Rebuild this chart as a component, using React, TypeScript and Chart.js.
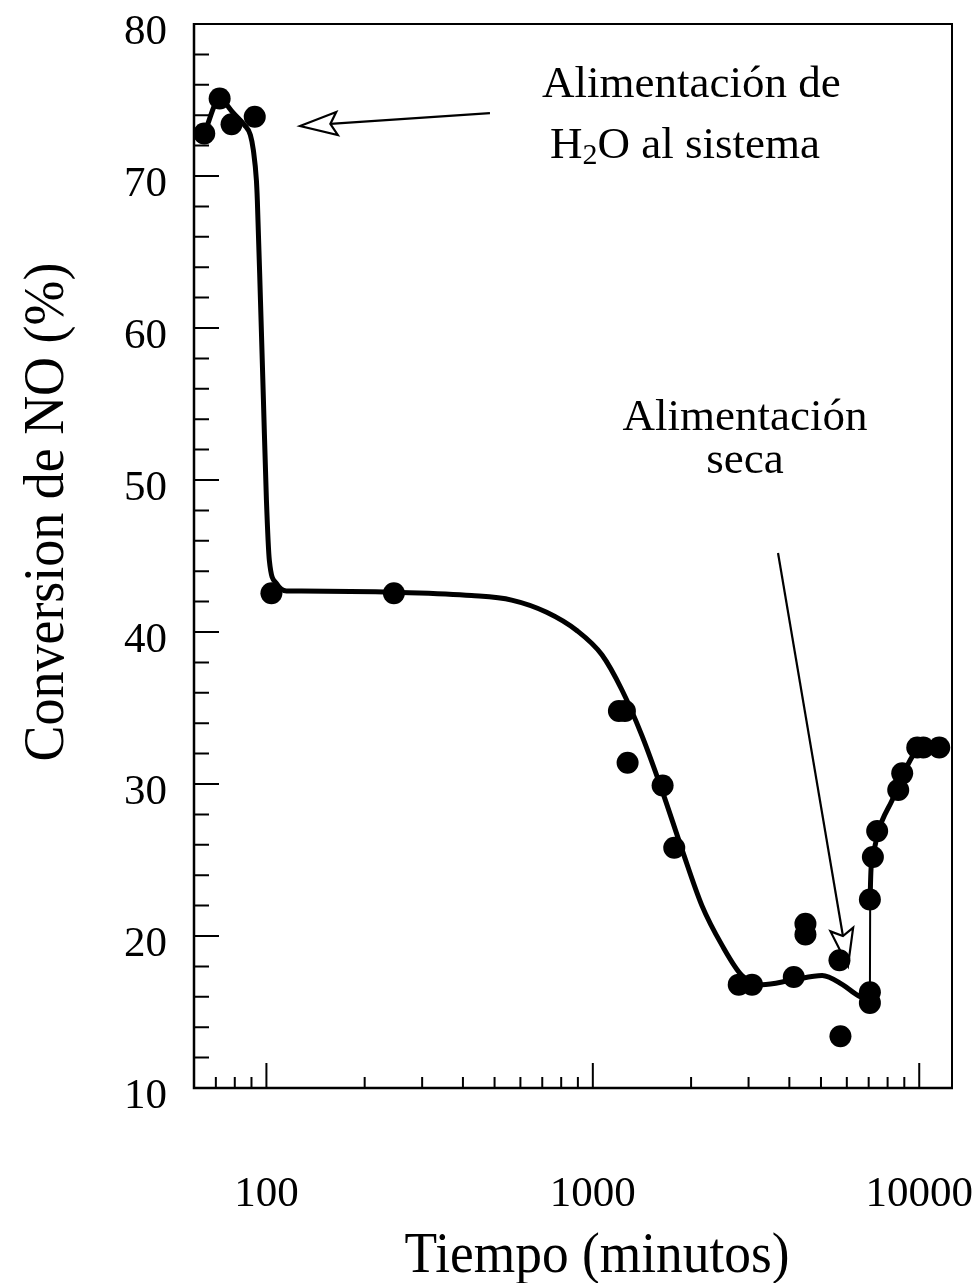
import React, { useEffect, useRef } from 'react';
import { Chart, registerables } from 'chart.js';

Chart.register(...registerables);

// ---- Data (time in minutes, NO conversion in %) ----
const pointTimes = [64.5, 71.9, 78.2, 92.1, 103.6, 245.8, 1202, 1254, 1278, 1636, 1776, 2799, 3074, 4127, 4481, 4481, 5696, 5736, 7060, 7060, 7060, 7211, 7432, 8622, 8868, 9860, 10290, 11515];
const pointConv = [72.8, 75.1, 73.4, 73.9, 42.55, 42.55, 34.8, 34.8, 31.4, 29.9, 25.8, 16.8, 16.8, 17.3, 20.8, 20.1, 18.4, 13.4, 22.4, 16.3, 15.6, 25.2, 26.9, 29.6, 30.7, 32.4, 32.4, 32.4];

const curveTimes = [64.5, 71.9, 79.2, 85.6, 89.3, 91.2, 93.2, 93.8, 95.9, 97.9, 100, 102.1, 107.3, 115.2, 128, 259, 425, 564, 722, 893, 1066, 1227, 1413, 1628, 1875, 2159, 2487, 2864, 3298, 4080, 5041, 5820, 6475, 7060, 7075, 7176, 7484, 7700, 8266, 8868, 9517, 10000, 11515];
const curveConv = [72.8, 75.07, 74.14, 73.36, 72.7, 71.7, 69.7, 68.4, 61.8, 55.3, 48.7, 44.7, 43.2, 42.7, 42.7, 42.6, 42.4, 42.1, 41.3, 40.1, 38.5, 36.2, 33.2, 29.6, 25.7, 22.0, 19.4, 17.4, 16.8, 17.1, 17.4, 16.8, 16.1, 15.8, 22.4, 25.1, 26.8, 27.6, 28.95, 30.5, 31.8, 32.4, 32.4];

const xMajorTicks = [100, 1000, 10000];
const xTickLabels = ['100', '1000', '10000'];
const xMinorTicks = [70, 80, 90, 200, 300, 400, 500, 600, 700, 800, 900, 2000, 3000, 4000, 5000, 6000, 7000, 8000, 9000];
const yMajorTicks = [10, 20, 30, 40, 50, 60, 70, 80];
const yTickLabels = ['10', '20', '30', '40', '50', '60', '70', '80'];
const yMinorTicks = [12, 14, 16, 18, 22, 24, 26, 28, 32, 34, 36, 38, 42, 44, 46, 48, 52, 54, 56, 58, 62, 64, 66, 68, 72, 74, 76, 78];

const xTitle = 'Tiempo (minutos)';
const yTitle = 'Conversion de NO (%)';
const note1Line1 = 'Alimentación de';
const note1Line2a = 'H';
const note1Line2sub = '2';
const note1Line2b = 'O al sistema';
const note2Line1 = 'Alimentación';
const note2Line2 = 'seca';

// annotation anchors in data coordinates [time, conversion]
const arrow1Tail = [484, 74.14];
const arrow1Tip = [126.8, 73.29];
const arrow2Tail = [3693, 45.2];
const arrow2Tip = [6050, 18.03];
const note1Anchor1 = [698.8, 75.22];
const note1Anchor2 = [739.4, 71.16];
const note2Anchor1 = [2925, 53.29];
const note2Anchor2 = [2925, 50.44];

const SERIF = "'Liberation Serif', 'Times New Roman', serif";

function drawArrow(ctx: CanvasRenderingContext2D, tx: number, ty: number, hx: number, hy: number) {
  const dx = hx - tx;
  const dy = hy - ty;
  const len = Math.hypot(dx, dy);
  const ux = dx / len;
  const uy = dy / len;
  const nx = -uy;
  const ny = ux;
  const L = 37;
  const W = 11.5;
  const notch = L * 0.82;
  const bx = hx - ux * L;
  const by = hy - uy * L;
  const mx = hx - ux * notch;
  const my = hy - uy * notch;
  ctx.save();
  ctx.strokeStyle = '#000';
  ctx.lineWidth = 2.2;
  ctx.beginPath();
  ctx.moveTo(tx, ty);
  ctx.lineTo(mx, my);
  ctx.stroke();
  ctx.beginPath();
  ctx.moveTo(hx, hy);
  ctx.lineTo(bx + nx * W, by + ny * W);
  ctx.lineTo(mx, my);
  ctx.lineTo(bx - nx * W, by - ny * W);
  ctx.closePath();
  ctx.fillStyle = '#fff';
  ctx.fill();
  ctx.lineJoin = 'miter';
  ctx.stroke();
  ctx.restore();
}

const decorPlugin = {
  id: 'decor',
  beforeDatasetsDraw(chart: any) {
    const ctx: CanvasRenderingContext2D = chart.ctx;
    const xs = chart.scales.x;
    const ys = chart.scales.y;
    const px = (p: number[]) => [xs.getPixelForValue(p[0]), ys.getPixelForValue(p[1])];
    const a1t = px(arrow1Tail), a1h = px(arrow1Tip);
    const a2t = px(arrow2Tail), a2h = px(arrow2Tip);
    drawArrow(ctx, a1t[0], a1t[1], a1h[0], a1h[1]);
    drawArrow(ctx, a2t[0], a2t[1], a2h[0], a2h[1]);

    ctx.save();
    ctx.fillStyle = '#000';
    ctx.textBaseline = 'alphabetic';
    ctx.font = `45px ${SERIF}`;
    ctx.textAlign = 'left';
    const n1 = px(note1Anchor1);
    ctx.fillText(note1Line1, n1[0], n1[1]);
    const n2 = px(note1Anchor2);
    ctx.fillText(note1Line2a, n2[0], n2[1]);
    let xoff = n2[0] + ctx.measureText(note1Line2a).width;
    ctx.font = `30px ${SERIF}`;
    ctx.fillText(note1Line2sub, xoff, n2[1] + 6);
    xoff += ctx.measureText(note1Line2sub).width;
    ctx.font = `45px ${SERIF}`;
    ctx.fillText(note1Line2b, xoff, n2[1]);
    ctx.textAlign = 'center';
    const m1 = px(note2Anchor1);
    ctx.fillText(note2Line1, m1[0], m1[1]);
    const m2 = px(note2Anchor2);
    ctx.fillText(note2Line2, m2[0], m2[1]);
    ctx.restore();
  },
  afterDraw(chart: any) {
    const ctx: CanvasRenderingContext2D = chart.ctx;
    const { left, right, top, bottom } = chart.chartArea;
    const xs = chart.scales.x;
    const ys = chart.scales.y;
    ctx.save();
    ctx.strokeStyle = '#000';
    // frame
    ctx.lineWidth = 2;
    ctx.beginPath();
    ctx.moveTo(left, top);
    ctx.lineTo(right, top);
    ctx.lineTo(right, bottom);
    ctx.stroke();
    ctx.lineWidth = 2.5;
    ctx.beginPath();
    ctx.moveTo(left, top - 1);
    ctx.lineTo(left, bottom);
    ctx.lineTo(right + 1, bottom);
    ctx.stroke();
    // inward ticks
    ctx.lineWidth = 2;
    ctx.beginPath();
    for (const v of yMajorTicks) {
      const y = ys.getPixelForValue(v);
      ctx.moveTo(left, y);
      ctx.lineTo(left + 25, y);
    }
    for (const v of yMinorTicks) {
      const y = ys.getPixelForValue(v);
      ctx.moveTo(left, y);
      ctx.lineTo(left + 15, y);
    }
    for (const v of xMajorTicks) {
      const x = xs.getPixelForValue(v);
      ctx.moveTo(x, bottom);
      ctx.lineTo(x, bottom - 25);
    }
    for (const v of xMinorTicks) {
      const x = xs.getPixelForValue(v);
      ctx.moveTo(x, bottom);
      ctx.lineTo(x, bottom - 11);
    }
    ctx.stroke();
    // axis titles (slightly condensed serif)
    ctx.fillStyle = '#000';
    ctx.font = `58px ${SERIF}`;
    ctx.textAlign = 'center';
    ctx.textBaseline = 'alphabetic';
    ctx.save();
    ctx.translate(597, 1272);
    ctx.scale(0.92, 1);
    ctx.fillText(xTitle, 0, 0);
    ctx.restore();
    ctx.save();
    ctx.translate(63, 512);
    ctx.rotate(-Math.PI / 2);
    ctx.scale(0.93, 1);
    ctx.fillText(yTitle, 0, 0);
    ctx.restore();
    ctx.restore();
  },
};

export default function App() {
  const ref = useRef<HTMLCanvasElement | null>(null);
  useEffect(() => {
    if (!ref.current) return;
    const tickFont = { family: SERIF, size: 43, lineHeight: 1 };
    const chart = new Chart(ref.current, {
      type: 'line',
      data: {
        datasets: [
          {
            label: 'points',
            data: pointTimes.map((t, i) => ({ x: t, y: pointConv[i] })),
            showLine: false,
            pointRadius: 11,
            pointBackgroundColor: '#000',
            pointBorderWidth: 0,
            borderColor: '#000',
            backgroundColor: '#000',
          },
          {
            label: 'curve',
            data: curveTimes.map((t, i) => ({ x: t, y: curveConv[i] })),
            borderColor: '#000',
            borderWidth: 5,
            pointRadius: 0,
            cubicInterpolationMode: 'monotone',
            fill: false,
            borderJoinStyle: 'round',
            borderCapStyle: 'round',
            segment: {
              borderWidth: (c: any) =>
                Math.abs(c.p1.x - c.p0.x) < 3 && c.p0.y - c.p1.y > 50 ? 2 : undefined,
            },
          },
        ],
      },
      options: {
        responsive: false,
        animation: false,
        layout: { padding: { top: 24, right: 27, left: 0, bottom: 0 } },
        plugins: { legend: { display: false }, tooltip: { enabled: false } },
        scales: {
          x: {
            type: 'logarithmic',
            min: 60,
            max: 12600,
            grid: { display: false, drawTicks: false, tickLength: 0 },
            border: { display: false },
            afterBuildTicks: (s: any) => {
              s.ticks = [...xMinorTicks, ...xMajorTicks].sort((a, b) => a - b).map((v) => ({ value: v }));
            },
            afterFit: (s: any) => {
              s.height = 195;
              s.paddingLeft = 0;
              s.paddingRight = 0;
            },
            ticks: {
              autoSkip: false,
              maxRotation: 0,
              minRotation: 0,
              padding: 85,
              color: '#000',
              font: tickFont,
              callback: (v: any) => {
                const i = xMajorTicks.indexOf(Number(v));
                return i >= 0 ? xTickLabels[i] : '';
              },
            },
          },
          y: {
            type: 'linear',
            min: 10,
            max: 80,
            grid: { display: false, drawTicks: false, tickLength: 0 },
            border: { display: false },
            afterBuildTicks: (s: any) => {
              s.ticks = yMajorTicks.map((v) => ({ value: v }));
            },
            afterFit: (s: any) => {
              s.width = 194;
              s.paddingTop = 0;
              s.paddingBottom = 0;
            },
            ticks: {
              padding: 27,
              labelOffset: 8.5,
              color: '#000',
              font: tickFont,
              callback: (v: any) => {
                const i = yMajorTicks.indexOf(Number(v));
                return i >= 0 ? yTickLabels[i] : '';
              },
            },
          },
        },
      },
      plugins: [decorPlugin],
    } as any);
    return () => chart.destroy();
  }, []);
  return (
    <div style={{ position: 'absolute', left: 0, top: 0, width: 979, height: 1283, background: '#fff' }}>
      <canvas ref={ref} width={979} height={1283} style={{ display: 'block' }} />
    </div>
  );
}
